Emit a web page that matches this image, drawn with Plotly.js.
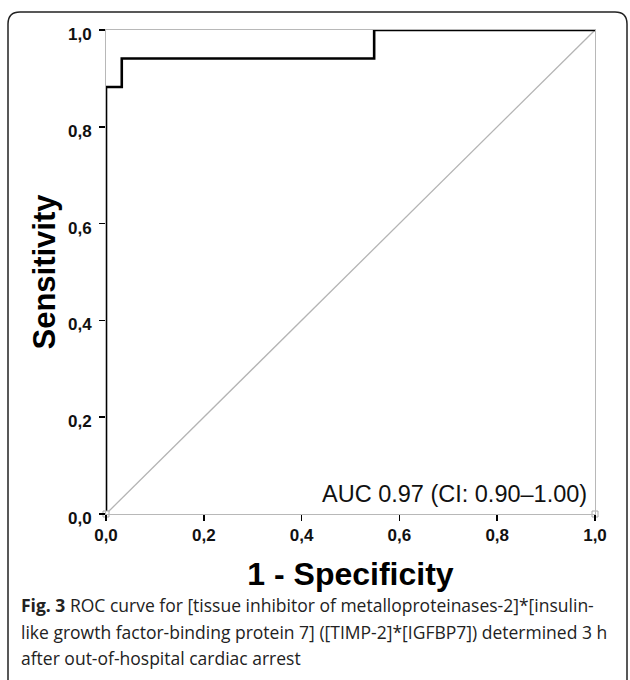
<!DOCTYPE html>
<html><head><meta charset="utf-8">
<script src="https://cdn.plot.ly/plotly-3.0.1.min.js"></script>
<style>html,body{margin:0;padding:0;background:#fff;}</style>
</head><body>
<div id="chart" style="width:630px;height:680px;"></div>
<script>
// ROC data (1 - specificity, sensitivity)
const fpr = [0, 0, 1/31, 1/31, 17/31, 17/31, 1];
const tpr = [0, 15/17, 15/17, 16/17, 16/17, 1, 1];
const refX = [0, 1];
const refY = [0, 1];
const tickVals = [0, 0.2, 0.4, 0.6, 0.8, 1.0];
const tickText = ["0,0", "0,2", "0,4", "0,6", "0,8", "1,0"];
const aucText = "AUC 0.97 (CI: 0.90\u20131.00)";
const captionLines = [
  "<b>Fig. 3</b> ROC curve for [tissue inhibitor of metalloproteinases-2]*[insulin-",
  "like growth factor-binding protein 7] ([TIMP-2]*[IGFBP7]) determined 3 h",
  "after out-of-hospital cardiac arrest"
];

const L = 106, R = 595, T = 30, B = 514;
const px = x => (x - L) / (R - L);
const py = y => (B - y) / (B - T);

const r = 12;
const framePath = `M ${px(8)} ${py(700)} L ${px(8)} ${py(12 + r)} Q ${px(8)} ${py(12)} ${px(8 + r)} ${py(12)} L ${px(627 - r)} ${py(12)} Q ${px(627)} ${py(12)} ${px(627)} ${py(12 + r)} L ${px(627)} ${py(700)}`;

const traces = [
  {x: refX, y: refY, mode: 'lines', line: {color: '#b4b4b4', width: 1.3}, hoverinfo: 'skip', showlegend: false},
  {x: fpr, y: tpr, mode: 'lines', line: {color: '#000', width: 2.6, shape: 'linear'}, cliponaxis: false, showlegend: false},
  {x: [0, 1], y: [0, 0], mode: 'markers', marker: {symbol: 'square', size: 6, color: '#fff', line: {width: 1, color: '#aaa'}}, cliponaxis: false, showlegend: false}
];

const captionY = [605, 632, 658];
const annotations = [
  {text: aucText, xref: 'paper', yref: 'paper', x: px(589), y: py(494), xanchor: 'right', yanchor: 'middle', showarrow: false,
   font: {family: 'Liberation Sans, Arial, sans-serif', size: 23.5, color: '#111'}}
];
captionLines.forEach((t, i) => annotations.push({
  text: t, xref: 'paper', yref: 'paper', x: px(19), y: py(captionY[i]), xanchor: 'left', yanchor: 'middle', showarrow: false, align: 'left',
  font: {family: 'Open Sans, sans-serif', size: 17.5, color: '#222'}
}));

const axisCommon = {
  range: [0, 1], tickmode: 'array', tickvals: tickVals, ticktext: tickText,
  ticks: 'outside', ticklen: 6, tickwidth: 1.5, tickcolor: '#000',
  showgrid: false, zeroline: false, showline: true, linecolor: '#b8b8b8', linewidth: 1, mirror: true,
  tickfont: {family: 'Liberation Sans, Arial, sans-serif', size: 17, color: '#111', weight: 'bold'},
  fixedrange: true
};

const layout = {
  width: 630, height: 680,
  margin: {l: L, r: 630 - R, t: T, b: 680 - B},
  paper_bgcolor: '#fff', plot_bgcolor: '#fff',
  xaxis: Object.assign({}, axisCommon, {
    title: {text: '<b>1 - Specificity</b>', standoff: 18, font: {family: 'Liberation Sans, Arial, sans-serif', size: 32, color: '#000'}}
  }),
  yaxis: Object.assign({}, axisCommon, {
    ticklabelshift: 4, ticklabelstandoff: 4,
    title: {text: '<b>Sensitivity</b>', standoff: 3, font: {family: 'Liberation Sans, Arial, sans-serif', size: 31, color: '#000'}}
  }),
  shapes: [{type: 'path', xref: 'paper', yref: 'paper', path: framePath, line: {color: '#222', width: 1.5}, fillcolor: 'rgba(0,0,0,0)'}],
  annotations: annotations,
  showlegend: false
};

Plotly.newPlot('chart', traces, layout, {displayModeBar: false, staticPlot: true});
</script>
</body></html>
